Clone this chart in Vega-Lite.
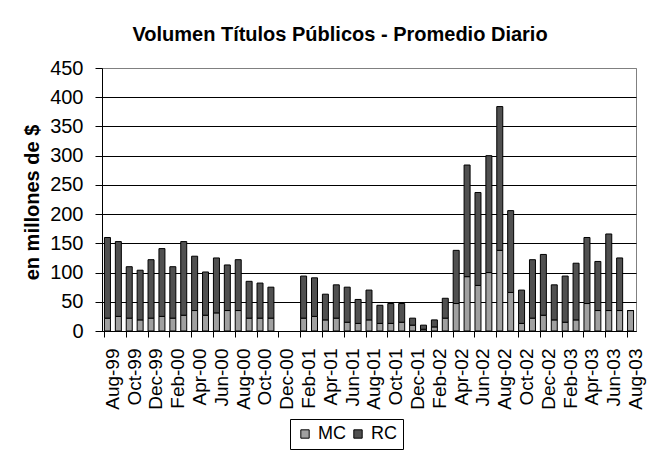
{
  "$schema": "https://vega.github.io/schema/vega-lite/v6.json",
  "width": 534,
  "height": 263,
  "autosize": {"type": "none"},
  "padding": {"left": 102, "top": 68, "right": 28, "bottom": 122},
  "background": "white",
  "title": {
    "text": "Volumen Títulos Públicos - Promedio Diario",
    "font": "Liberation Sans",
    "fontSize": 20,
    "fontWeight": "bold",
    "color": "black",
    "anchor": "middle",
    "frame": "group",
    "dx": -29,
    "offset": -3,
    "baseline": "alphabetic"
  },
  "data": {
    "values": [
      {"mes": "Aug-99", "serie": "MC", "valor": 22}, {"mes": "Aug-99", "serie": "RC", "valor": 138},
      {"mes": "Sep-99", "serie": "MC", "valor": 25}, {"mes": "Sep-99", "serie": "RC", "valor": 128},
      {"mes": "Oct-99", "serie": "MC", "valor": 22}, {"mes": "Oct-99", "serie": "RC", "valor": 88},
      {"mes": "Nov-99", "serie": "MC", "valor": 19}, {"mes": "Nov-99", "serie": "RC", "valor": 85},
      {"mes": "Dec-99", "serie": "MC", "valor": 22}, {"mes": "Dec-99", "serie": "RC", "valor": 100},
      {"mes": "Jan-00", "serie": "MC", "valor": 25}, {"mes": "Jan-00", "serie": "RC", "valor": 116},
      {"mes": "Feb-00", "serie": "MC", "valor": 22}, {"mes": "Feb-00", "serie": "RC", "valor": 88},
      {"mes": "Mar-00", "serie": "MC", "valor": 27}, {"mes": "Mar-00", "serie": "RC", "valor": 126},
      {"mes": "Apr-00", "serie": "MC", "valor": 35}, {"mes": "Apr-00", "serie": "RC", "valor": 93},
      {"mes": "May-00", "serie": "MC", "valor": 27}, {"mes": "May-00", "serie": "RC", "valor": 74},
      {"mes": "Jun-00", "serie": "MC", "valor": 31}, {"mes": "Jun-00", "serie": "RC", "valor": 94},
      {"mes": "Jul-00", "serie": "MC", "valor": 35}, {"mes": "Jul-00", "serie": "RC", "valor": 78},
      {"mes": "Aug-00", "serie": "MC", "valor": 35}, {"mes": "Aug-00", "serie": "RC", "valor": 87},
      {"mes": "Sep-00", "serie": "MC", "valor": 22}, {"mes": "Sep-00", "serie": "RC", "valor": 63},
      {"mes": "Oct-00", "serie": "MC", "valor": 22}, {"mes": "Oct-00", "serie": "RC", "valor": 60},
      {"mes": "Nov-00", "serie": "MC", "valor": 22}, {"mes": "Nov-00", "serie": "RC", "valor": 53},
      {"mes": "Feb-01", "serie": "MC", "valor": 22}, {"mes": "Feb-01", "serie": "RC", "valor": 72},
      {"mes": "Mar-01", "serie": "MC", "valor": 25}, {"mes": "Mar-01", "serie": "RC", "valor": 66},
      {"mes": "Apr-01", "serie": "MC", "valor": 19}, {"mes": "Apr-01", "serie": "RC", "valor": 44},
      {"mes": "May-01", "serie": "MC", "valor": 22}, {"mes": "May-01", "serie": "RC", "valor": 57},
      {"mes": "Jun-01", "serie": "MC", "valor": 15}, {"mes": "Jun-01", "serie": "RC", "valor": 60},
      {"mes": "Jul-01", "serie": "MC", "valor": 13}, {"mes": "Jul-01", "serie": "RC", "valor": 41},
      {"mes": "Aug-01", "serie": "MC", "valor": 19}, {"mes": "Aug-01", "serie": "RC", "valor": 51},
      {"mes": "Sep-01", "serie": "MC", "valor": 13}, {"mes": "Sep-01", "serie": "RC", "valor": 31},
      {"mes": "Oct-01", "serie": "MC", "valor": 13}, {"mes": "Oct-01", "serie": "RC", "valor": 34},
      {"mes": "Nov-01", "serie": "MC", "valor": 15}, {"mes": "Nov-01", "serie": "RC", "valor": 32},
      {"mes": "Dec-01", "serie": "MC", "valor": 10}, {"mes": "Dec-01", "serie": "RC", "valor": 12},
      {"mes": "Jan-02", "serie": "MC", "valor": 3}, {"mes": "Jan-02", "serie": "RC", "valor": 7},
      {"mes": "Feb-02", "serie": "MC", "valor": 7}, {"mes": "Feb-02", "serie": "RC", "valor": 12},
      {"mes": "Mar-02", "serie": "MC", "valor": 22}, {"mes": "Mar-02", "serie": "RC", "valor": 34},
      {"mes": "Apr-02", "serie": "MC", "valor": 47}, {"mes": "Apr-02", "serie": "RC", "valor": 91},
      {"mes": "May-02", "serie": "MC", "valor": 93}, {"mes": "May-02", "serie": "RC", "valor": 191},
      {"mes": "Jun-02", "serie": "MC", "valor": 78}, {"mes": "Jun-02", "serie": "RC", "valor": 159},
      {"mes": "Jul-02", "serie": "MC", "valor": 100}, {"mes": "Jul-02", "serie": "RC", "valor": 200},
      {"mes": "Aug-02", "serie": "MC", "valor": 138}, {"mes": "Aug-02", "serie": "RC", "valor": 246},
      {"mes": "Sep-02", "serie": "MC", "valor": 66}, {"mes": "Sep-02", "serie": "RC", "valor": 140},
      {"mes": "Oct-02", "serie": "MC", "valor": 13}, {"mes": "Oct-02", "serie": "RC", "valor": 57},
      {"mes": "Nov-02", "serie": "MC", "valor": 22}, {"mes": "Nov-02", "serie": "RC", "valor": 100},
      {"mes": "Dec-02", "serie": "MC", "valor": 27}, {"mes": "Dec-02", "serie": "RC", "valor": 104},
      {"mes": "Jan-03", "serie": "MC", "valor": 19}, {"mes": "Jan-03", "serie": "RC", "valor": 60},
      {"mes": "Feb-03", "serie": "MC", "valor": 15}, {"mes": "Feb-03", "serie": "RC", "valor": 79},
      {"mes": "Mar-03", "serie": "MC", "valor": 19}, {"mes": "Mar-03", "serie": "RC", "valor": 97},
      {"mes": "Apr-03", "serie": "MC", "valor": 47}, {"mes": "Apr-03", "serie": "RC", "valor": 113},
      {"mes": "May-03", "serie": "MC", "valor": 35}, {"mes": "May-03", "serie": "RC", "valor": 84},
      {"mes": "Jun-03", "serie": "MC", "valor": 35}, {"mes": "Jun-03", "serie": "RC", "valor": 131},
      {"mes": "Jul-03", "serie": "MC", "valor": 35}, {"mes": "Jul-03", "serie": "RC", "valor": 90},
      {"mes": "Aug-03", "serie": "MC", "valor": 35}, {"mes": "Aug-03", "serie": "RC", "valor": 0}
    ]
  },
  "mark": {"type": "bar", "stroke": "black", "strokeWidth": 1},
  "encoding": {
    "x": {
      "field": "mes",
      "type": "ordinal",
      "sort": null,
      "scale": {
        "domain": ["Aug-99","Sep-99","Oct-99","Nov-99","Dec-99","Jan-00","Feb-00","Mar-00","Apr-00","May-00","Jun-00","Jul-00","Aug-00","Sep-00","Oct-00","Nov-00","Dec-00","Jan-01","Feb-01","Mar-01","Apr-01","May-01","Jun-01","Jul-01","Aug-01","Sep-01","Oct-01","Nov-01","Dec-01","Jan-02","Feb-02","Mar-02","Apr-02","May-02","Jun-02","Jul-02","Aug-02","Sep-02","Oct-02","Nov-02","Dec-02","Jan-03","Feb-03","Mar-03","Apr-03","May-03","Jun-03","Jul-03","Aug-03"],
        "paddingInner": 0.45,
        "paddingOuter": 0.225
      },
      "axis": {
        "title": null,
        "values": ["Aug-99","Oct-99","Dec-99","Feb-00","Apr-00","Jun-00","Aug-00","Oct-00","Dec-00","Feb-01","Apr-01","Jun-01","Aug-01","Oct-01","Dec-01","Feb-02","Apr-02","Jun-02","Aug-02","Oct-02","Dec-02","Feb-03","Apr-03","Jun-03","Aug-03"],
        "bandPosition": 0,
        "labelOffset": 5.45,
        "labelAngle": -90,
        "labelAlign": "right",
        "labelBaseline": "middle",
        "labelOverlap": false,
        "labelFont": "Liberation Sans",
        "labelFontSize": 19,
        "labelColor": "black",
        "labelPadding": 11,
        "tickSize": 6,
        "tickColor": "black",
        "domainColor": "black",
        "grid": false
      }
    },
    "y": {
      "field": "valor",
      "type": "quantitative",
      "stack": "zero",
      "scale": {"domain": [0, 450], "nice": false},
      "axis": {
        "title": "en millones de $",
        "titleFont": "Liberation Sans",
        "titleFontSize": 20,
        "titleFontWeight": "bold",
        "titleColor": "black",
        "titleAngle": -90,
        "titleAlign": "center",
        "titleBaseline": "alphabetic",
        "titleX": -64,
        "titleY": 134,
        "values": [0, 50, 100, 150, 200, 250, 300, 350, 400, 450],
        "labelFont": "Liberation Sans",
        "labelFontSize": 20,
        "labelColor": "black",
        "labelPadding": 12,
        "tickSize": 7,
        "tickColor": "black",
        "domainColor": "black",
        "grid": true,
        "gridColor": {"condition": {"test": "datum.value === 450", "value": "#808080"}, "value": "black"},
        "gridWidth": 1
      }
    },
    "color": {
      "field": "serie",
      "type": "nominal",
      "scale": {"domain": ["MC", "RC"], "range": ["#a0a0a0", "#505050"]},
      "legend": {
        "title": null,
        "orient": "none",
        "direction": "horizontal",
        "legendX": 188,
        "legendY": 351,
        "strokeColor": "black",
        "fillColor": "white",
        "padding": 6,
        "symbolType": "square",
        "symbolSize": 70,
        "symbolStrokeColor": "black",
        "symbolStrokeWidth": 1,
        "symbolOpacity": 1,
        "labelFont": "Liberation Sans",
        "labelFontSize": 18,
        "labelColor": "black",
        "labelOffset": 4,
        "columnPadding": 3
      }
    },
    "order": {"field": "serie", "sort": "ascending"}
  },
  "config": {
    "view": {"stroke": "#808080", "strokeWidth": 1},
    "axis": {"domainWidth": 1, "tickWidth": 1}
  }
}
